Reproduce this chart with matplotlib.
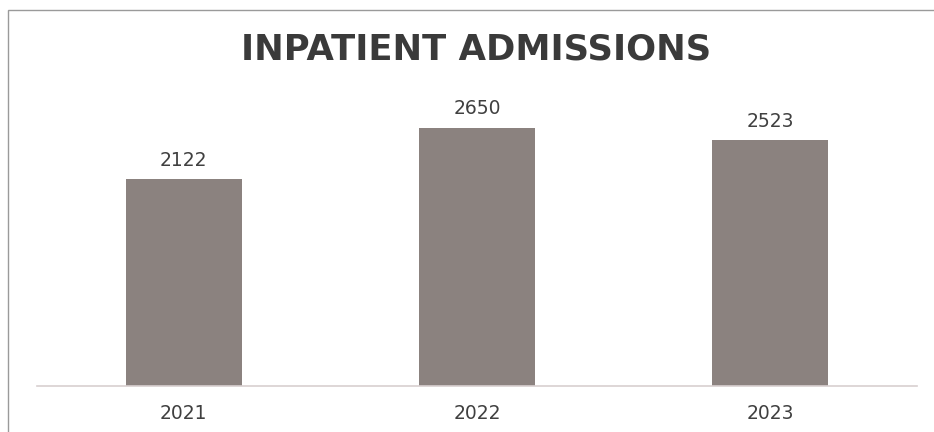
import matplotlib
matplotlib.use("Agg")
import matplotlib.pyplot as plt
from matplotlib.patches import Rectangle

years = ["2021", "2022", "2023"]
admissions = [2122, 2650, 2523]

W, H = 934, 432
fig = plt.figure(figsize=(W / 100, H / 100), dpi=100)
fig.patch.set_facecolor("white")

# chart border
fig.patches.append(Rectangle((8 / W, -0.1), 1.2, (H - 10) / H + 0.1,
                             transform=fig.transFigure, fill=False,
                             edgecolor="#9a9a9a", linewidth=1.0))

left, right = 37.3, 916.7
bottom_px, top_px = 386, 94
ax = fig.add_axes([left / W, 1 - bottom_px / H, (right - left) / W, (bottom_px - top_px) / H])
ax.set_facecolor("none")

x = list(range(len(years)))
bars = ax.bar(x, admissions, width=0.396, color="#8b827f", zorder=2)
ax.set_xlim(-0.5, 2.5)
ax.set_ylim(0, 3000)

for xi, v in zip(x, admissions):
    ax.annotate(str(v), (xi, v), xytext=(0, 10), textcoords="offset points",
                ha="center", va="baseline", fontsize=13.5, color="#404040",
                family="DejaVu Sans")

ax.set_xticks(x)
ax.set_xticklabels(years, fontsize=13.5, color="#404040", family="DejaVu Sans")
ax.tick_params(axis="x", length=0, pad=13)
ax.set_yticks([])
for s in ["top", "right", "left"]:
    ax.spines[s].set_visible(False)
ax.spines["bottom"].set_color("#d8cfd0")
ax.spines["bottom"].set_linewidth(1.2)

fig.text(476 / W, 1 - 59 / H, "INPATIENT ADMISSIONS", ha="center", va="baseline",
         fontsize=25.5, fontweight="bold", color="#3a3a3a", family="DejaVu Sans")

fig.savefig("out.png", dpi=100)
